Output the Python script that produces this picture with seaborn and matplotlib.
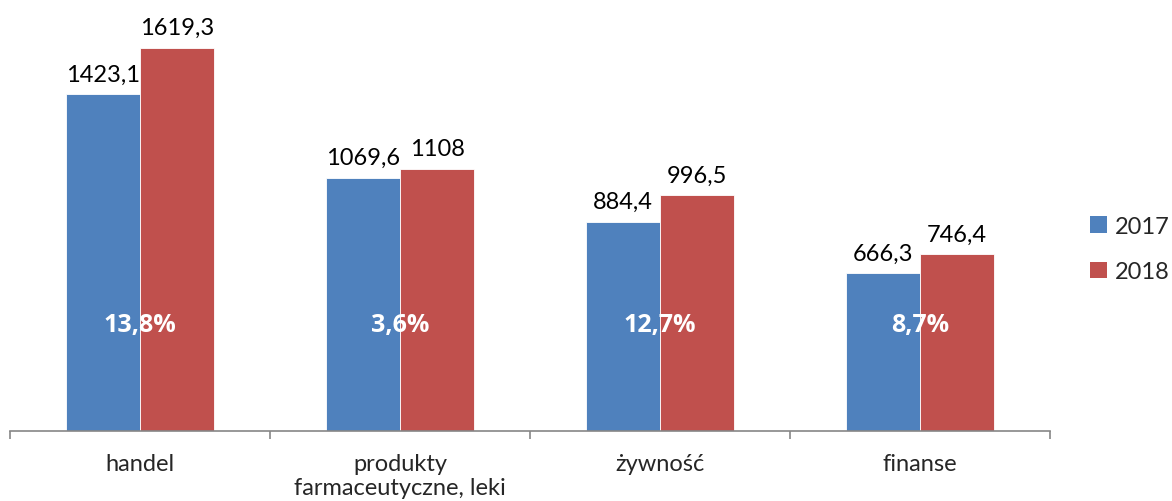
import matplotlib
matplotlib.use("Agg")
import matplotlib.pyplot as plt
import seaborn as sns
import pandas as pd
from matplotlib.patches import Patch

categories = ["handel", "produkty\nfarmaceutyczne, leki", "żywność", "finanse"]
values_2017 = [1423.1, 1069.6, 884.4, 666.3]
values_2018 = [1619.3, 1108.0, 996.5, 746.4]
labels_2017 = ["1423,1", "1069,6", "884,4", "666,3"]
labels_2018 = ["1619,3", "1108", "996,5", "746,4"]
growth_labels = ["13,8%", "3,6%", "12,7%", "8,7%"]
years = ["2017", "2018"]
colors = ["#4F81BD", "#C0504D"]

sns.set_theme(style="white")
plt.rcParams["font.family"] = ["Lato", "DejaVu Sans"]

df = pd.DataFrame({
    "kategoria": categories * 2,
    "rok": [years[0]] * 4 + [years[1]] * 4,
    "wartosc": values_2017 + values_2018,
})

fig = plt.figure(figsize=(11.72, 5.02), dpi=100)
ax = fig.add_axes([10 / 1172, 70 / 502, 1040 / 1172, 432 / 502])

sns.barplot(data=df, x="kategoria", y="wartosc", hue="rok", order=categories,
            hue_order=years, palette=colors, width=0.57, saturation=1,
            edgecolor="white", linewidth=0.6, legend=False, ax=ax)

ax.set_xlim(-0.5, 3.5)
ax.set_ylim(0, 1619.3 * 432 / 383)

for cont, labs in zip(ax.containers, [labels_2017, labels_2018]):
    ax.bar_label(cont, labels=labs, padding=7, fontsize=17, color="black")

for i, g in enumerate(growth_labels):
    ax.text(i, 452, g, ha="center", va="center", fontsize=18,
            fontweight="bold", color="white", family=["Open Sans", "DejaVu Sans"])

for s in ["top", "right", "left"]:
    ax.spines[s].set_visible(False)
ax.spines["bottom"].set_color("#868686")
ax.spines["bottom"].set_linewidth(1.2)
ax.set_yticks([])
ax.set_xlabel("")
ax.set_ylabel("")
ax.set_xticks(range(len(categories)))
ax.set_xticklabels(categories, fontsize=17, linespacing=1.15)
ax.tick_params(axis="x", which="major", length=0, pad=16)
ax.set_xticks([-0.5, 0.5, 1.5, 2.5, 3.5], minor=True)
ax.tick_params(axis="x", which="minor", length=6, width=1.2, color="#868686",
               direction="out", bottom=True)

handles = [Patch(facecolor=c, edgecolor="none") for c in colors]
fig.legend(handles, years, loc="center left", bbox_to_anchor=(1090 / 1172, 1 - 250 / 502),
           frameon=False, fontsize=17, handlelength=0.7, handleheight=0.7,
           handletextpad=0.35, labelspacing=1.05, borderpad=0.0, borderaxespad=0.0)

fig.savefig("out.png", dpi=100)
